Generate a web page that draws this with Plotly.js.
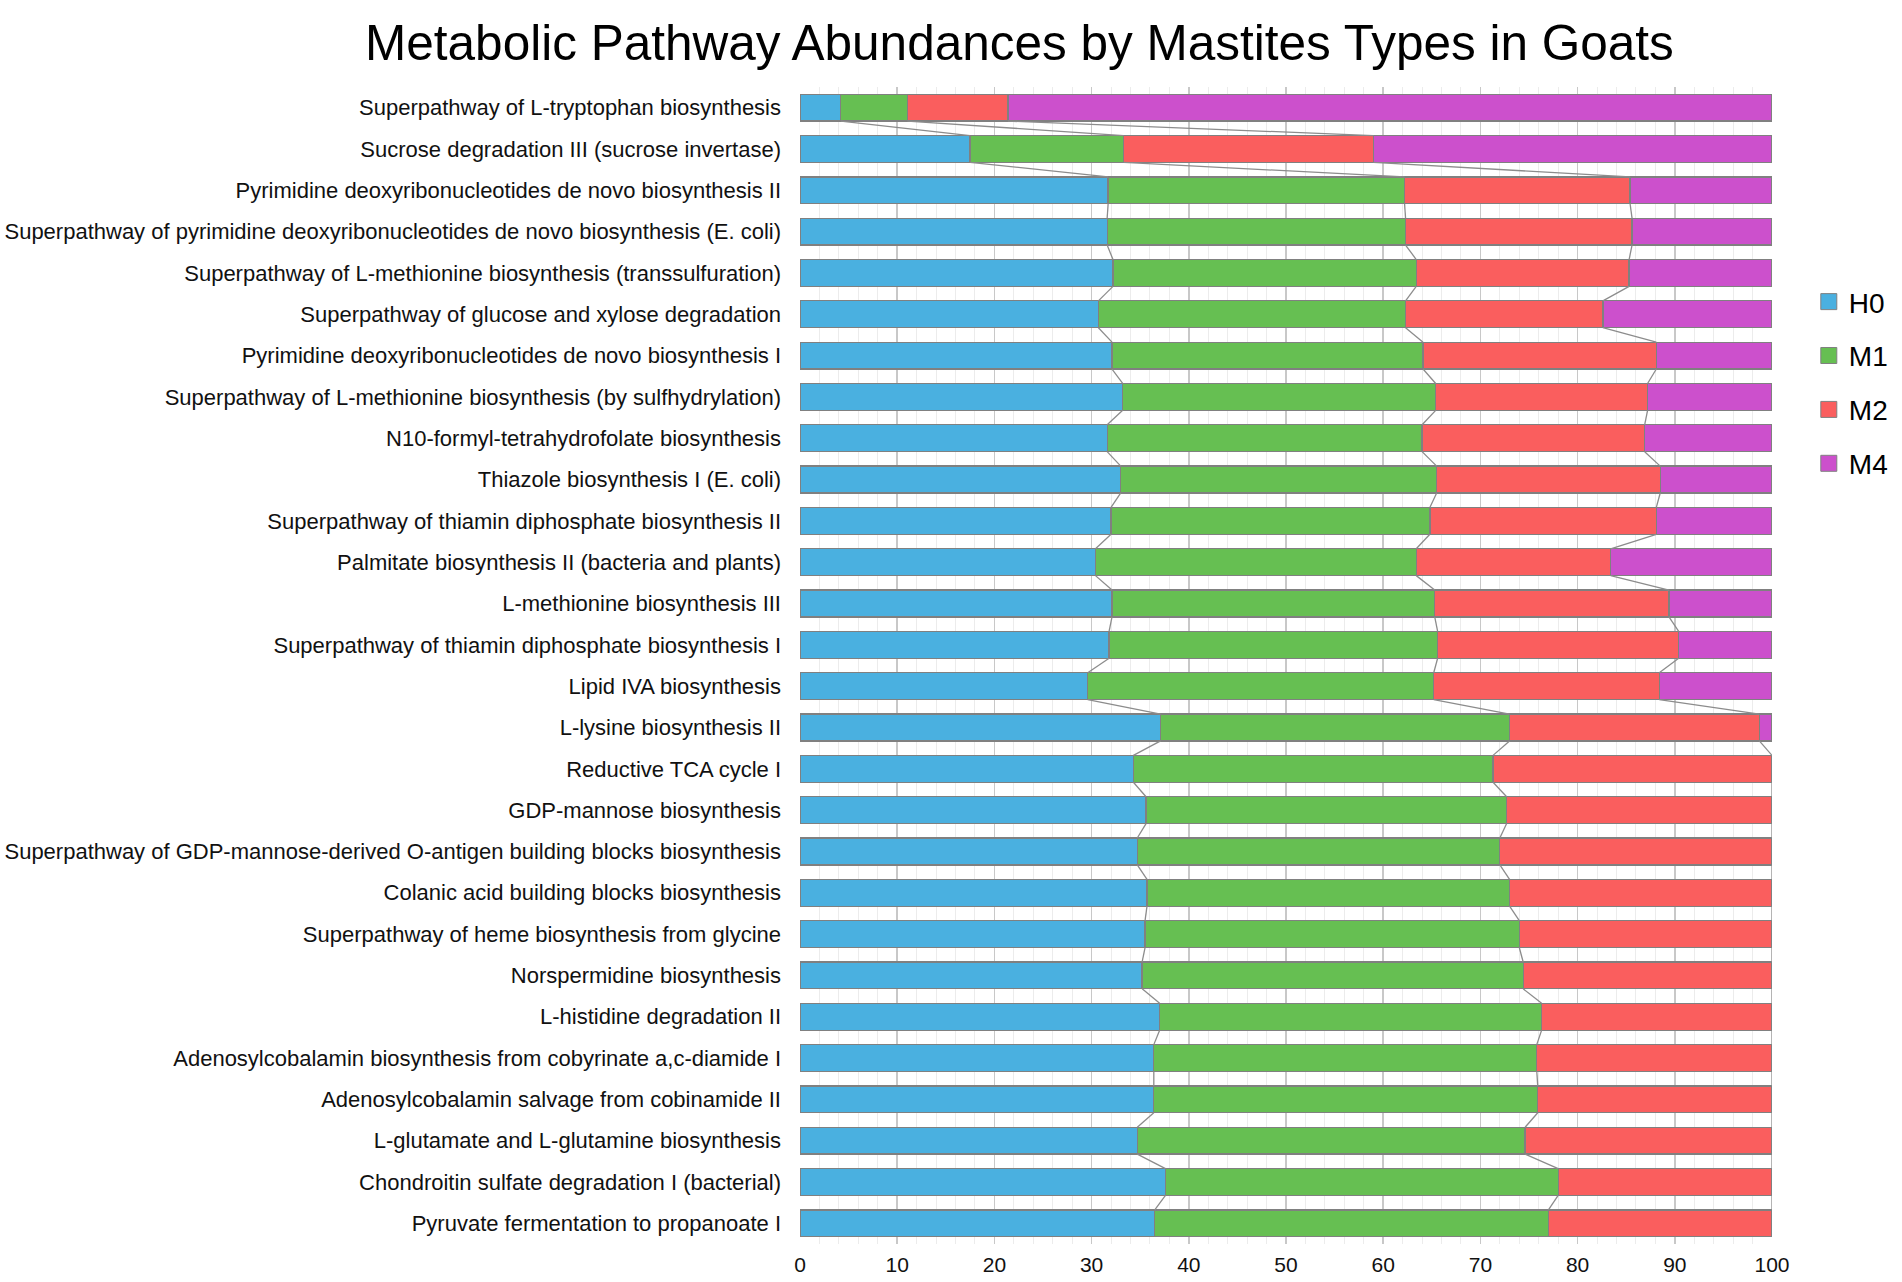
<!DOCTYPE html>
<html>
<head>
<meta charset="utf-8">
<script src="https://cdn.plot.ly/plotly-3.0.1.min.js"></script>
<style>
  html, body { margin: 0; padding: 0; background: #fff; }
  #chart { width: 1902px; height: 1282px; }
</style>
</head>
<body>
<div id="chart"></div>
<script>
// pathways, top to bottom
var pathways = [
  "Superpathway of L-tryptophan biosynthesis",
  "Sucrose degradation III (sucrose invertase)",
  "Pyrimidine deoxyribonucleotides de novo biosynthesis II",
  "Superpathway of pyrimidine deoxyribonucleotides de novo biosynthesis (E. coli)",
  "Superpathway of L-methionine biosynthesis (transsulfuration)",
  "Superpathway of glucose and xylose degradation",
  "Pyrimidine deoxyribonucleotides de novo biosynthesis I",
  "Superpathway of L-methionine biosynthesis (by sulfhydrylation)",
  "N10-formyl-tetrahydrofolate biosynthesis",
  "Thiazole biosynthesis I (E. coli)",
  "Superpathway of thiamin diphosphate biosynthesis II",
  "Palmitate biosynthesis II (bacteria and plants)",
  "L-methionine biosynthesis III",
  "Superpathway of thiamin diphosphate biosynthesis I",
  "Lipid IVA biosynthesis",
  "L-lysine biosynthesis II",
  "Reductive TCA cycle I",
  "GDP-mannose biosynthesis",
  "Superpathway of GDP-mannose-derived O-antigen building blocks biosynthesis",
  "Colanic acid building blocks biosynthesis",
  "Superpathway of heme biosynthesis from glycine",
  "Norspermidine biosynthesis",
  "L-histidine degradation II",
  "Adenosylcobalamin biosynthesis from cobyrinate a,c-diamide I",
  "Adenosylcobalamin salvage from cobinamide II",
  "L-glutamate and L-glutamine biosynthesis",
  "Chondroitin sulfate degradation I (bacterial)",
  "Pyruvate fermentation to propanoate I"
];

// relative abundance (%) per group
var H0 = [4.2, 17.5, 31.7, 31.6, 32.2, 30.7, 32.1, 33.2, 31.6, 33.0, 32.0, 30.4, 32.1, 31.8,
          29.6, 37.1, 34.3, 35.6, 34.7, 35.7, 35.5, 35.2, 37.0, 36.4, 36.4, 34.7, 37.6, 36.5];
var M1 = [6.85, 15.8, 30.5, 30.7, 31.2, 31.6, 32.0, 32.2, 32.4, 32.5, 32.8, 33.0, 33.2, 33.8,
          35.6, 35.9, 37.0, 37.1, 37.3, 37.3, 38.5, 39.2, 39.3, 39.4, 39.5, 39.9, 40.4, 40.5];
var M2 = [10.35, 25.7, 23.2, 23.3, 21.9, 20.3, 24.0, 21.8, 22.9, 23.0, 23.3, 20.0, 24.1, 24.8,
          23.2, 25.7, 28.7, 27.3, 28.0, 27.0, 26.0, 25.6, 23.7, 24.2, 24.1, 25.4, 22.0, 23.0];
var M4 = [78.6, 41.0, 14.6, 14.4, 14.7, 17.4, 11.9, 12.8, 13.1, 11.5, 11.9, 16.6, 10.6, 9.6,
          11.6, 1.3, 0, 0, 0, 0, 0, 0, 0, 0, 0, 0, 0, 0];

var groups = ["H0", "M1", "M2", "M4"];
var colors = ["#4AB0E0", "#66BF52", "#FA5E5E", "#CC50CC"];
var seriesVals = [H0, M1, M2, M4];

var FONT = '"Liberation Sans", Arial, Helvetica, sans-serif';
var barWidth = 0.65;
var idx = pathways.map(function (_, i) { return i; });

var traces = [];
seriesVals.forEach(function (vals, k) {
  traces.push({
    type: 'bar',
    orientation: 'h',
    name: groups[k],
    legendgroup: groups[k],
    showlegend: false,
    y: idx,
    x: vals,
    width: barWidth,
    marker: { color: colors[k], line: { color: '#808080', width: 1.3 } },
    hoverinfo: 'x+name'
  });
});

// legend entries with bigger square swatches
groups.forEach(function (g, k) {
  traces.push({
    type: 'scatter', mode: 'markers',
    name: g, legendgroup: g,
    x: [null], y: [null],
    marker: { symbol: 'square', size: 16, color: colors[k], line: { color: '#808080', width: 1 } },
    hoverinfo: 'skip'
  });
});

// series lines joining the stack boundaries of neighbouring bars
var cum = [H0.slice()];
cum.push(cum[0].map(function (v, i) { return v + M1[i]; }));
cum.push(cum[1].map(function (v, i) { return v + M2[i]; }));
cum.forEach(function (c) {
  var lx = [], ly = [];
  for (var i = 0; i < c.length - 1; i++) {
    lx.push(c[i], c[i + 1], null);
    ly.push(i + barWidth / 2, i + 1 - barWidth / 2, null);
  }
  traces.push({
    type: 'scatter', mode: 'lines', x: lx, y: ly,
    line: { color: '#8c8c8c', width: 1.3 },
    showlegend: false, hoverinfo: 'skip'
  });
});

var layout = {
  width: 1902,
  height: 1282,
  margin: { l: 800, r: 130, t: 87, b: 38 },
  paper_bgcolor: '#ffffff',
  plot_bgcolor: '#ffffff',
  barmode: 'stack',
  font: { family: FONT, color: '#111' },
  title: {
    text: 'Metabolic Pathway Abundances by Mastites Types in Goats',
    font: { family: FONT, size: 49.5, color: '#000' },
    xref: 'container', x: 0.536, xanchor: 'center',
    yref: 'container', y: 0.967, yanchor: 'middle'
  },
  xaxis: {
    range: [0, 100],
    dtick: 10,
    showgrid: true,
    gridcolor: '#c8c8c8',
    gridwidth: 1.5,
    minor: { dtick: 2, showgrid: true, gridcolor: '#ececec', gridwidth: 1 },
    zeroline: false,
    showline: false,
    ticks: '',
    ticklabelstandoff: 6,
    tickfont: { family: FONT, size: 21, color: '#111' },
    fixedrange: true
  },
  yaxis: {
    range: [pathways.length - 0.5, -0.5],
    tickmode: 'array',
    tickvals: idx,
    ticktext: pathways,
    showgrid: false,
    zeroline: false,
    showline: false,
    ticks: '',
    ticklabelstandoff: 18,
    tickfont: { family: FONT, size: 22, color: '#111' },
    fixedrange: true
  },
  showlegend: true,
  legend: {
    xref: 'container', yref: 'container',
    x: 0.951, y: 0.784, xanchor: 'left', yanchor: 'top',
    traceorder: 'grouped',
    tracegroupgap: 14.5,
    font: { family: FONT, size: 28, color: '#000' },
    bgcolor: 'rgba(0,0,0,0)'
  }
};

Plotly.newPlot('chart', traces, layout, { displayModeBar: false, staticPlot: true });
</script>
</body>
</html>
